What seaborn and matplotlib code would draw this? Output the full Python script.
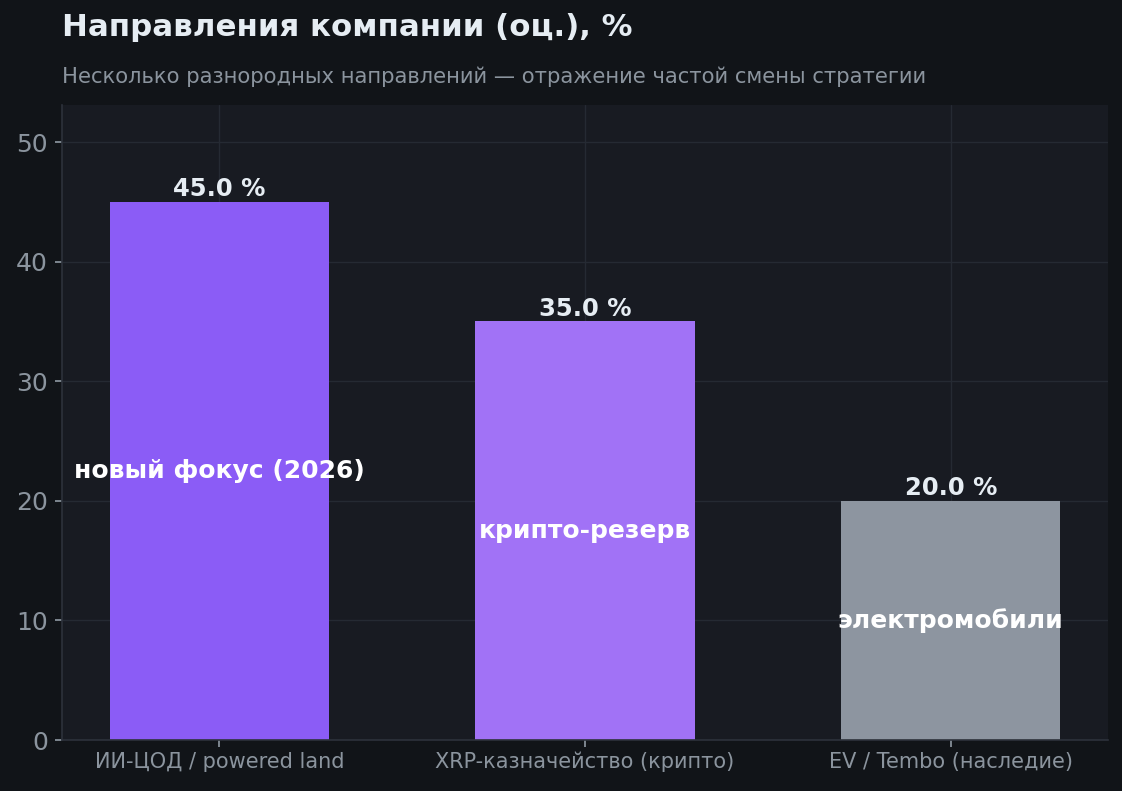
import matplotlib
matplotlib.use("Agg")
import matplotlib.pyplot as plt
import seaborn as sns
import pandas as pd

# данные
categories = ["ИИ-ЦОД / powered land", "XRP-казначейство (крипто)", "EV / Tembo (наследие)"]
shares = [45.0, 35.0, 20.0]
inner_labels = ["новый фокус (2026)", "крипто-резерв", "электромобили"]
bar_colors = ["#8b5cf6", "#a172f6", "#8d95a0"]

fig_bg = "#111418"
ax_bg = "#181b22"
grid_c = "#252a33"
text_c = "#e6edf3"
muted_c = "#8b949e"

sns.set_theme(style="dark")
plt.rcParams["font.family"] = ["DejaVu Sans"]

df = pd.DataFrame({"cat": categories, "val": shares})

fig = plt.figure(figsize=(11.22, 7.91), dpi=100, facecolor=fig_bg)
ax = fig.add_axes([62 / 1122, 51 / 791, 1046 / 1122, 635 / 791])
ax.set_facecolor(ax_bg)

sns.barplot(data=df, x="cat", y="val", hue="cat", palette=bar_colors,
            width=0.6, saturation=1, legend=False, linewidth=0, ax=ax)

ax.set_xlim(-0.43, 2.43)
ax.set_ylim(0, 53.1)
ax.set_yticks([0, 10, 20, 30, 40, 50])
ax.grid(True, color=grid_c, linewidth=1)
ax.set_axisbelow(True)
for s in ["top", "right"]:
    ax.spines[s].set_visible(False)
for s in ["left", "bottom"]:
    ax.spines[s].set_color("#2d323b")
    ax.spines[s].set_linewidth(1.2)

ax.tick_params(axis="y", colors=muted_c, labelsize=18, length=5, pad=5, color=muted_c, left=True)
ax.tick_params(axis="x", colors=muted_c, labelsize=15, length=5, color=muted_c, bottom=True)
ax.set_xlabel("")
ax.set_ylabel("")

for i, (v, lab) in enumerate(zip(shares, inner_labels)):
    ax.text(i, v + 0.05, f"{v:.1f} %", ha="center", va="bottom",
            color=text_c, fontsize=17.5, fontweight="bold")
    ax.text(i, v / 2, lab, ha="center", va="center",
            color="white", fontsize=18, fontweight="bold")

fig.text(62 / 1122, 1 - 28 / 791, "Направления компании (оц.), %", ha="left", va="center",
         color=text_c, fontsize=22.2, fontweight="bold")
fig.text(62 / 1122, 1 - 77 / 791, "Несколько разнородных направлений — отражение частой смены стратегии",
         ha="left", va="center", color=muted_c, fontsize=15.2)

fig.savefig("out.png", dpi=100, facecolor=fig_bg)
